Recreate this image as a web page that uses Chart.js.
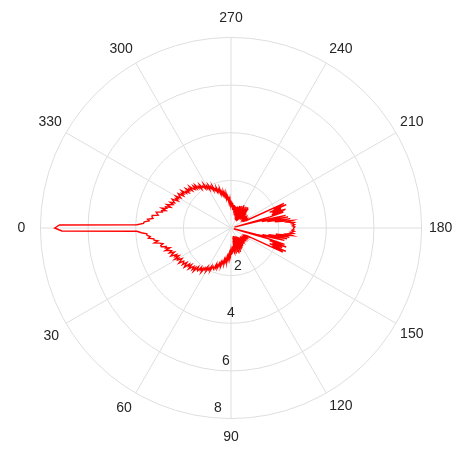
<!DOCTYPE html>
<html lang="en">
<head>
    <meta charset="UTF-8">
    <title>Polar plot</title>
    <script src="https://cdn.jsdelivr.net/npm/chart.js"></script>
    <style>
        body {
            margin: 0;
            padding: 0;
            background: #ffffff;
        }
        .chart-box {
            width: 461px;
            height: 450px;
        }
    </style>
</head>
<body>
    <div class="chart-box">
        <canvas id="polarChart"></canvas>
    </div>

    <script>
        // angle tick labels (degrees) and radial tick labels
        const angleTicks = [0, 30, 60, 90, 120, 150, 180, 210, 240, 270, 300, 330];
        const radiusTicks = [2, 4, 6, 8];

        // radius, one value per degree, theta = 0..359
        const radius = [
            7.4, 7.1, 3.95, 3.77, 3.54, 3.54, 3.41, 3.49, 3.27, 3.27,
            3.11, 3.28, 3.06, 2.93, 3.04, 3.03, 2.83, 2.88, 2.7, 2.92,
            2.75, 2.67, 2.79, 2.58, 2.7, 2.79, 2.54, 2.64, 2.48, 2.7,
            2.53, 2.61, 2.42, 2.53, 2.64, 2.42, 2.45, 2.55, 2.35, 2.47,
            2.56, 2.31, 2.4, 2.26, 2.47, 2.34, 2.24, 2.38, 2.23, 2.39,
            2.13, 2.24, 2.28, 2.07, 2.18, 2.07, 2.24, 2.0, 2.06, 1.9,
            2.1, 1.92, 1.98, 1.8, 1.99, 1.78, 1.82, 1.87, 1.64, 1.79,
            1.67, 1.78, 1.56, 1.65, 1.49, 1.67, 1.47, 1.52, 1.36, 1.54,
            1.34, 1.42, 1.25, 1.44, 1.2, 1.3, 1.11, 1.26, 1.05, 1.16,
            0.95, 1.13, 0.9, 1.08, 0.8, 1.0, 0.75, 1.0, 1.05, 0.55,
            0.98, 0.4, 1.1, 0.5, 0.9, 0.35, 1.05, 0.6, 1.12, 0.45,
            0.95, 0.38, 1.08, 0.55, 0.92, 0.42, 1.0, 0.5, 0.85, 0.4,
            0.95, 0.55, 0.8, 0.45, 0.9, 0.58, 0.78, 0.5, 0.85, 0.6,
            0.75, 0.55, 0.72, 0.66, 0.72, 0.65, 0.7, 0.64, 0.71, 0.66,
            0.73, 0.65, 0.7, 0.67, 0.74, 0.66, 0.72, 0.68, 0.75, 0.67,
            0.73, 0.7, 0.76, 0.68, 0.74, 2.4, 1.9, 2.5, 1.75, 2.3,
            1.85, 2.45, 1.7, 2.35, 1.6, 0.12, 1.1, 2.3, 1.35, 2.4,
            1.6, 2.48, 1.9, 2.58, 2.35, 2.63, 2.5, 2.66, 2.56, 2.64,
            2.62, 2.68, 2.58, 2.67, 2.55, 2.66, 2.38, 2.6, 1.86, 2.52,
            1.55, 2.44, 1.32, 2.35, 1.12, 0.15, 1.7, 2.3, 1.8, 2.42,
            1.85, 2.25, 1.75, 2.52, 1.95, 2.45, 0.72, 0.66, 0.7, 0.64,
            0.72, 0.66, 0.7, 0.63, 0.71, 0.65, 0.72, 0.66, 0.74, 0.67,
            0.7, 0.64, 0.73, 0.67, 0.75, 0.68, 0.78, 0.7, 1.08, 0.5,
            1.12, 0.42, 1.0, 0.36, 1.1, 0.55, 0.95, 0.4, 1.05, 0.5,
            1.1, 0.45, 0.92, 0.38, 1.02, 0.55, 0.9, 0.42, 1.0, 0.55,
            0.88, 0.5, 0.95, 0.6, 0.85, 0.55, 0.92, 0.65, 0.88, 0.7,
            0.95, 0.8, 0.98, 0.75, 0.98, 0.76, 1.05, 0.85, 1.1, 0.9,
            1.15, 0.99, 1.2, 1.08, 1.31, 1.14, 1.33, 1.26, 1.45, 1.27,
            1.47, 1.37, 1.56, 1.41, 1.56, 1.48, 1.7, 1.5, 1.69, 1.62,
            1.81, 1.63, 1.77, 1.72, 1.94, 1.74, 1.93, 1.86, 2.04, 1.85,
            2.03, 1.94, 2.17, 1.97, 2.12, 2.08, 2.25, 2.05, 2.22, 2.15,
            2.35, 2.19, 2.37, 2.21, 2.29, 2.47, 2.26, 2.42, 2.34, 2.51,
            2.31, 2.44, 2.37, 2.6, 2.44, 2.54, 2.41, 2.64, 2.56, 2.46,
            2.68, 2.53, 2.63, 2.5, 2.75, 2.67, 2.59, 2.77, 2.62, 2.72,
            2.87, 2.68, 2.88, 2.82, 3.03, 2.83, 3.0, 2.96, 3.21, 3.16,
            3.1, 3.35, 3.35, 3.3, 3.52, 3.45, 3.65, 3.68, 3.95, 7.2
        ];

        // radar goes clockwise from the start angle, the plot goes the other way,
        // so walk the degrees backwards starting at 0 on the left
        const angles = [];
        for (let i = 0; i < 360; i++) {
            angles.push((360 - i) % 360);
        }
        const seriesValues = angles.map(a => radius[a]);

        const textColor = '#262626';
        const gridColor = '#dedede';
        const fontFamily = "'Liberation Sans', Arial, sans-serif";

        // radial labels sit just inside each ring, along the bottom spoke
        const radialLabels = {
            id: 'radialLabels',
            afterDraw(chart) {
                const s = chart.scales.r;
                const ctx = chart.ctx;
                const nudge = [7, 0, -5, -13];
                ctx.save();
                ctx.font = '14px ' + fontFamily;
                ctx.fillStyle = textColor;
                ctx.textAlign = 'center';
                ctx.textBaseline = 'middle';
                radiusTicks.forEach((v, k) => {
                    const d = s.getDistanceFromCenterForValue(v);
                    ctx.fillText(String(v), s.xCenter + nudge[k], s.yCenter + d - 10);
                });
                ctx.restore();
            }
        };

        new Chart(document.getElementById('polarChart'), {
            type: 'radar',
            data: {
                labels: angles,
                datasets: [{
                    data: seriesValues,
                    borderColor: '#ff0000',
                    borderWidth: 1.4,
                    pointRadius: 0,
                    pointHoverRadius: 0,
                    fill: false,
                    tension: 0
                }]
            },
            options: {
                responsive: true,
                maintainAspectRatio: false,
                animation: false,
                layout: {
                    padding: { top: 10, bottom: 3, left: 9, right: 0 }
                },
                plugins: {
                    legend: { display: false },
                    tooltip: { enabled: false }
                },
                scales: {
                    r: {
                        min: 0,
                        max: 8,
                        startAngle: 270,
                        ticks: { display: false, stepSize: 2 },
                        grid: { circular: true, color: gridColor, lineWidth: 1 },
                        angleLines: {
                            color: gridColor,
                            lineWidth: (ctx) => angleTicks.includes(angles[ctx.index]) ? 1 : 0
                        },
                        pointLabels: {
                            color: textColor,
                            font: { size: 14, family: fontFamily },
                            callback: (label) => angleTicks.includes(label) ? String(label) : '',
                            padding: (ctx) => {
                                // centre each label on a circle ~19px outside the rim
                                const a = (270 + ctx.index) * Math.PI / 180;
                                const w = String(ctx.label || '').length * 7.8;
                                return 19 - (w / 2 * Math.abs(Math.sin(a)) + 8.4 * Math.abs(Math.cos(a)));
                            }
                        }
                    }
                }
            },
            plugins: [radialLabels]
        });
    </script>
</body>
</html>
